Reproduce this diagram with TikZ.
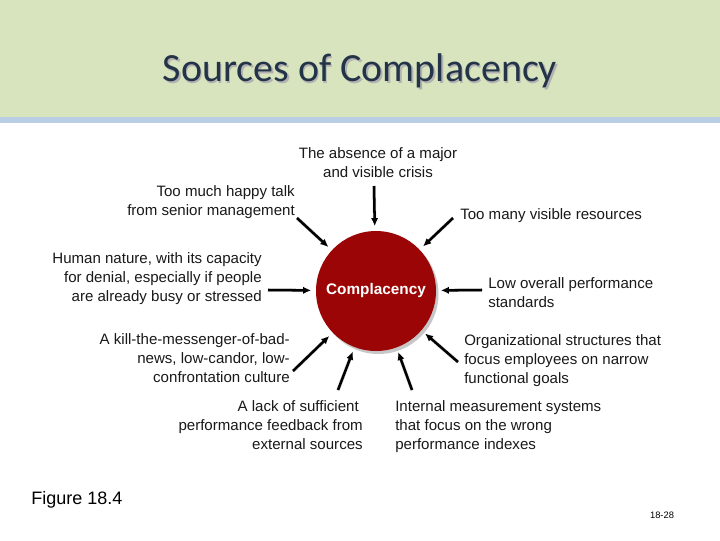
\documentclass[tikz,border=0pt]{standalone}
\usepackage{fontspec}
\setmainfont{Liberation Sans}
\newfontfamily\titlefont{Carlito}
\usetikzlibrary{arrows.meta}
\definecolor{bandgreen}{RGB}{216,228,189}
\definecolor{bandblue}{RGB}{185,205,228}
\definecolor{titleblue}{RGB}{36,52,72}
\definecolor{circred}{RGB}{155,5,5}
\definecolor{txt}{RGB}{25,25,25}
\tikzset{
  lbl/.style={inner sep=0pt, text=txt, font=\fontsize{11.3}{14.2}\selectfont},
  lblr/.style={lbl, align=right, anchor=north east},
  lbll/.style={lbl, align=left, anchor=north west},
  arr/.style={-{Latex[length=6pt,width=5.5pt]}, line width=1.9pt, black, shorten >=3.5pt},
  arrshadow/.style={line width=2.6pt, black!25, shorten >=6pt, opacity=0.7}
}
\begin{document}
\begin{tikzpicture}[x=0.75pt,y=-0.75pt]
\useasboundingbox (0,0) rectangle (720,540);
\fill[white] (0,0) rectangle (720,540);
\fill[bandgreen] (0,0) rectangle (720,117);
\fill[bandblue] (0,117) rectangle (720,123);
% title
\node[text=black!30, font=\titlefont\fontsize{30}{34}\selectfont] at (361.5,72.5) {Sources of Complacency};
\node (title) [text=titleblue, font=\titlefont\fontsize{30}{34}\selectfont] at (360,71) {Sources of Complacency};
% circle
\fill[black!22] (378.5,294) circle (60);
\node (circ) [circle, fill=circred, minimum size=120*0.75pt, inner sep=0pt,
  text=white, font=\bfseries\fontsize{11.5}{13}\selectfont] at (376,291) {Complacency};
% labels
\node (l1) [lbl, align=center, anchor=north] at (378,147) {The absence of a major\\and visible crisis};
\node (l2) [lblr] at (295,185) {Too much happy talk\\from senior management};
\node (l3) [lbll] at (460,208) {Too many visible resources};
\node (l4) [lblr] at (262,252) {Human nature, with its capacity\\for denial, especially if people\\are already busy or stressed};
\node (l5) [lbll] at (488,277) {Low overall performance\\standards};
\node (l6) [lblr] at (290,333) {A kill-the-messenger-of-bad-\\news, low-candor, low-\\confrontation culture};
\node (l7) [lbll] at (464,334) {Organizational structures that\\focus employees on narrow\\functional goals};
\node (l8) [lblr] at (363,400) {A lack of sufficient\hspace*{3pt}\\performance feedback from\\external sources};
\node (l9) [lbll] at (395,400) {Internal measurement systems\\that focus on the wrong\\performance indexes};
% arrow start points
\coordinate (s1) at (374,186);
\coordinate (s2) at (297,218);
\coordinate (s3) at (453,218);
\coordinate (s4) at (268,290);
\coordinate (s5) at (482,290);
\coordinate (s6) at (293,371);
\coordinate (s7) at (338,390);
\coordinate (s8) at (458,362);
\coordinate (s9) at (412,390);
% shadows
\begin{scope}[shift={(2.5,3)}]
\foreach \s in {s1,s2,s3,s4,s5,s6,s7,s8,s9}
  \draw[arrshadow] (\s) -- (circ);
\end{scope}
% arrows
\foreach \s in {s1,s2,s3,s4,s5,s6,s7,s8,s9}
  \draw[arr] (\s) -- (circ);
% footer
\node (fig) [anchor=west, inner sep=0pt, text=black, font=\fontsize{13.5}{15}\selectfont] at (31,500) {Figure 18.4};
\node (pg) [inner sep=0pt, text=black, font=\fontsize{7}{8}\selectfont] at (662,515) {18-28};
\end{tikzpicture}
\end{document}
